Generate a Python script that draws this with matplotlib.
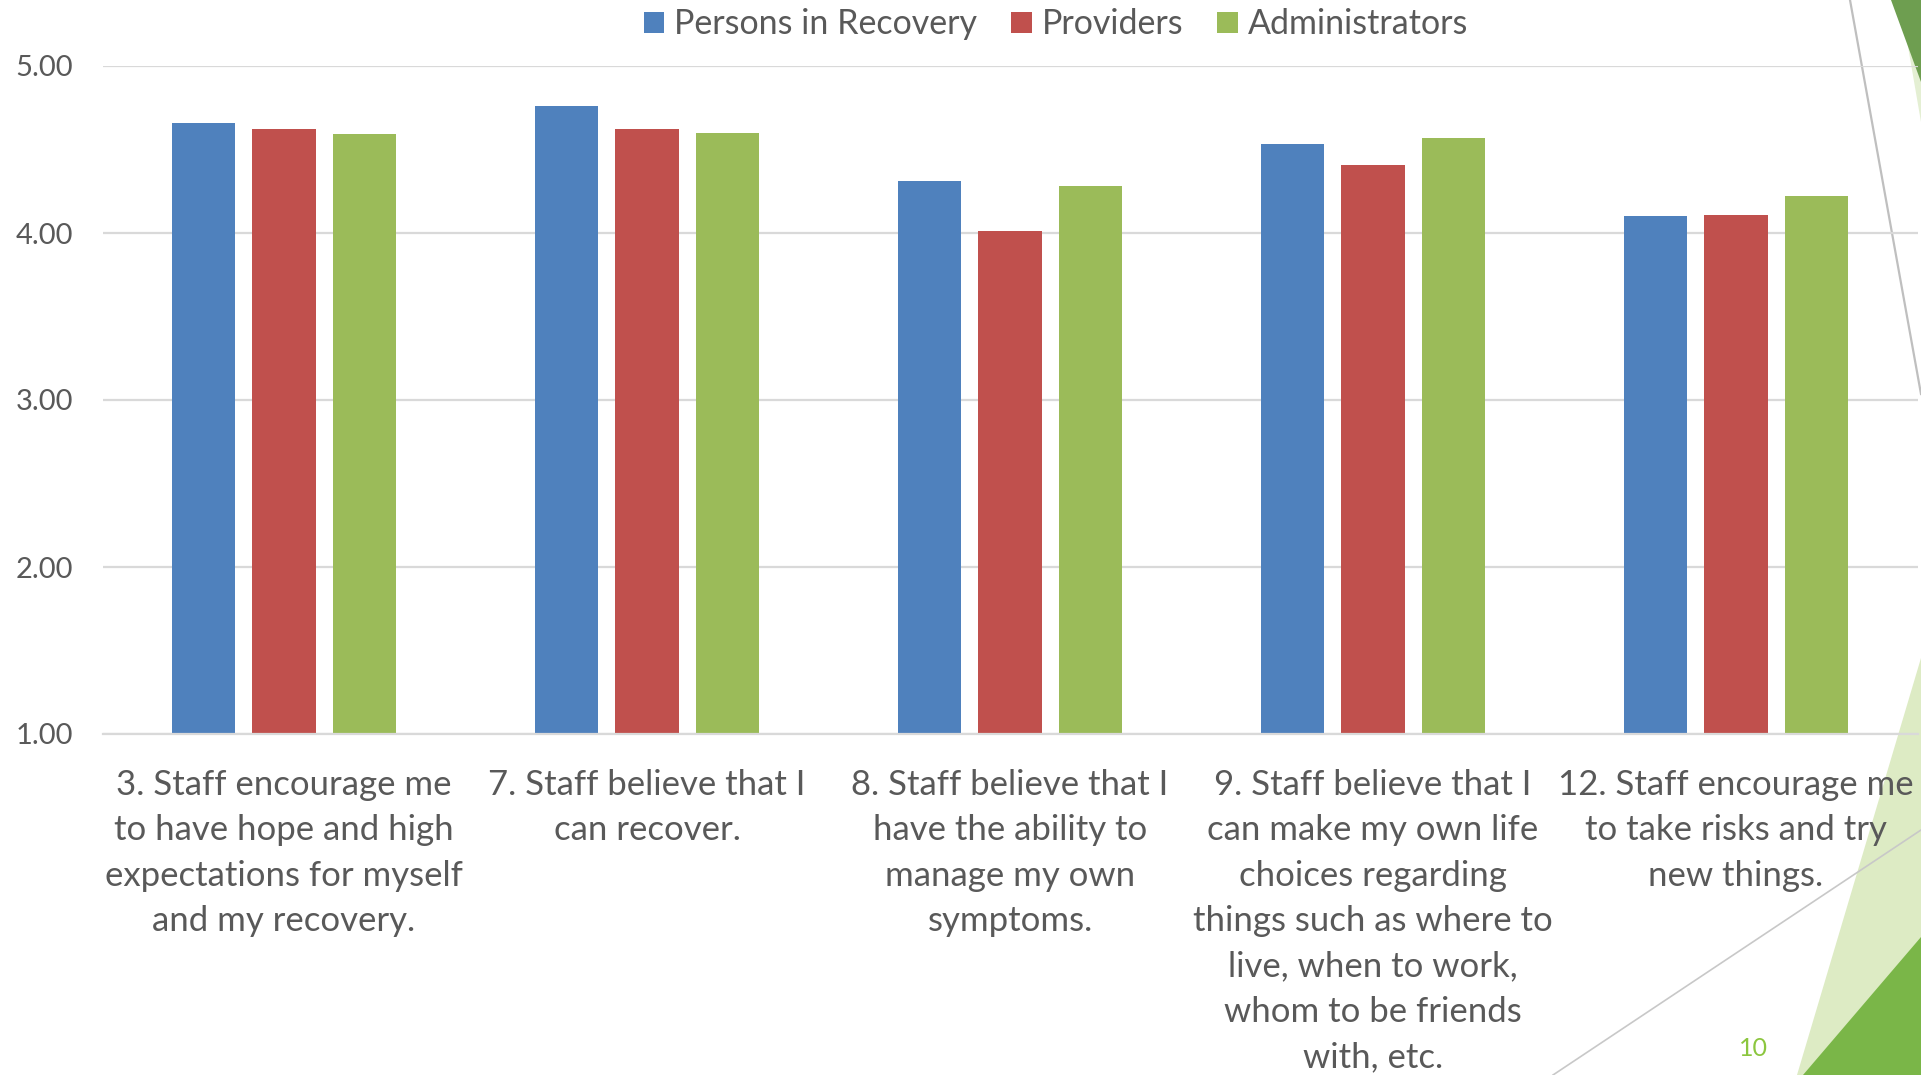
import matplotlib
matplotlib.use("Agg")
import matplotlib.pyplot as plt
from matplotlib.patches import Polygon, Patch
from matplotlib.lines import Line2D
import numpy as np

plt.rcParams['font.family'] = ['Lato', 'DejaVu Sans']

categories = [
    "3. Staff encourage me\nto have hope and high\nexpectations for myself\nand my recovery.",
    "7. Staff believe that I\ncan recover.",
    "8. Staff believe that I\nhave the ability to\nmanage my own\nsymptoms.",
    "9. Staff believe that I\ncan make my own life\nchoices regarding\nthings such as where to\nlive, when to work,\nwhom to be friends\nwith, etc.",
    "12. Staff encourage me\nto take risks and try\nnew things.",
]
series_names = ["Persons in Recovery", "Providers", "Administrators"]
persons = [4.66, 4.76, 4.31, 4.53, 4.10]
providers = [4.62, 4.62, 4.01, 4.41, 4.11]
administrators = [4.59, 4.60, 4.28, 4.57, 4.22]
y_ticks = [1.0, 2.0, 3.0, 4.0, 5.0]
y_tick_labels = ["1.00", "2.00", "3.00", "4.00", "5.00"]

colors = ["#4F81BD", "#C0504D", "#9BBB59"]
text_gray = "#595959"
grid_gray = "#D9D9D9"

W, H = 1921, 1075
fig = plt.figure(figsize=(W / 100, H / 100), dpi=100)
fig.patch.set_facecolor("white")

# Slide decoration layer in pixel coordinates
deco = fig.add_axes([0, 0, 1, 1], zorder=0)
deco.set_xlim(0, W)
deco.set_ylim(H, 0)
deco.axis("off")
deco.add_patch(Polygon([(1900, 0), (W, 0), (W, 122)], closed=True,
                       facecolor="#E4EFD3", edgecolor="none"))
deco.add_patch(Polygon([(1891, 0), (W, 0), (W, 82)], closed=True,
                       facecolor="#6E9E50", edgecolor="none"))
deco.add_line(Line2D([1850, 1921], [0, 394], color="#BFBFBF", lw=1.6))
deco.add_patch(Polygon([(W, 658), (W, H), (1797, H)], closed=True,
                       facecolor="#DDEBC4", edgecolor="none"))
deco.add_patch(Polygon([(1803, H), (W, 937), (W, H)], closed=True,
                       facecolor="#7AB648", edgecolor="none"))
deco.add_line(Line2D([1553, 1921], [1075, 830], color="#C8C8C8", lw=1.2))
deco.text(1753, 1049, "10", color="#8CC63F", fontsize=18,
          ha="center", va="center")

# Main chart
ax = fig.add_axes([102.5 / W, 1 - 734 / H, 1815 / W, 668 / H], zorder=1)
ax.patch.set_visible(False)

x = np.arange(len(categories))
width = 0.174
offset = 0.222
for i, (vals, c) in enumerate(zip([persons, providers, administrators], colors)):
    ax.bar(x + (i - 1) * offset, np.array(vals) - 1.0, width=width, bottom=1.0,
           color=c, edgecolor="none", zorder=3, label=series_names[i])

ax.set_xlim(-0.5, len(categories) - 0.5)
ax.set_ylim(1.0, 5.0)
ax.set_yticks(y_ticks)
ax.set_yticklabels(y_tick_labels)
ax.set_xticks(x)
ax.set_xticklabels(categories, linespacing=1.515)

ax.grid(axis="y", color=grid_gray, lw=1.6, zorder=0)
for s in ["top", "right", "left"]:
    ax.spines[s].set_visible(False)
ax.spines["bottom"].set_color(grid_gray)
ax.spines["bottom"].set_linewidth(1.6)
ax.spines["bottom"].set_zorder(4)

ax.tick_params(axis="y", length=0, pad=21, labelsize=21, labelcolor=text_gray)
ax.tick_params(axis="x", length=0, pad=25, labelsize=25, labelcolor=text_gray)

handles = [Patch(facecolor=c, edgecolor="none") for c in colors]
fig.legend(handles, series_names, loc="center", bbox_to_anchor=(1056 / W, 1 - 24.5 / H),
           ncol=3, frameon=False, fontsize=24.5, labelcolor=text_gray,
           handlelength=0.6, handleheight=0.6, handletextpad=0.3, columnspacing=1.0)

fig.savefig("out.png", dpi=100, facecolor="white")
